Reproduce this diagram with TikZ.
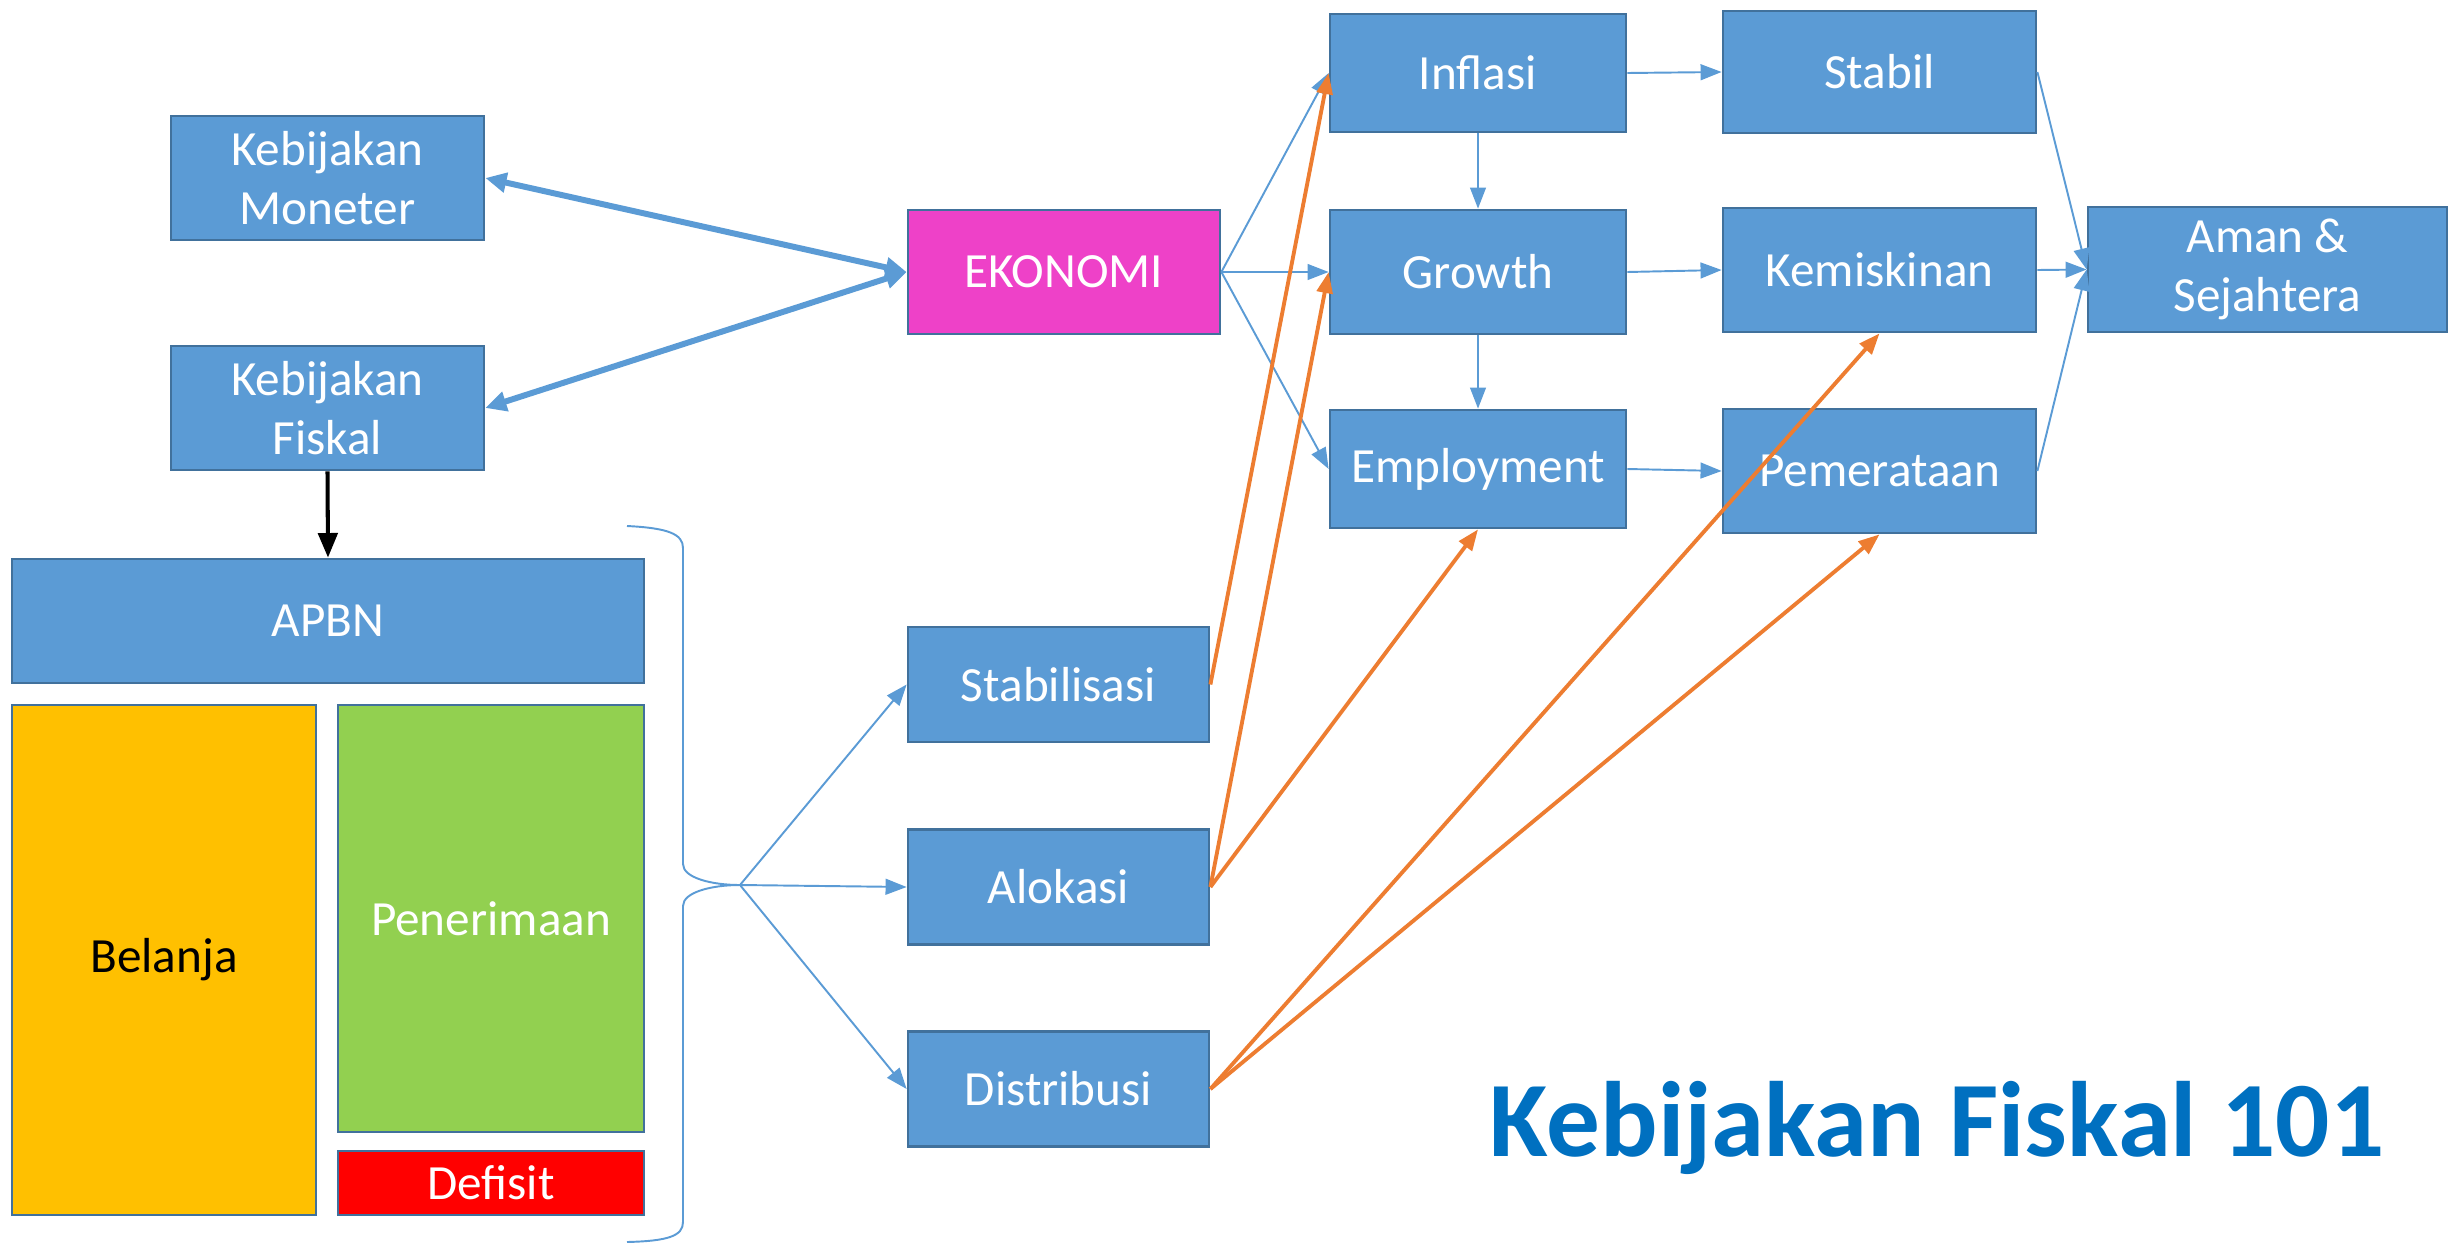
\documentclass[tikz,border=0pt]{standalone}
\usepackage{fontspec}
\setmainfont{Carlito}
\usetikzlibrary{arrows.meta}
\definecolor{boxblue}{HTML}{5B9BD5}
\definecolor{boxedge}{HTML}{41719C}
\definecolor{ekmag}{HTML}{EE41C8}
\definecolor{orng}{HTML}{ED7D31}
\definecolor{gold}{HTML}{FFC000}
\definecolor{lgreen}{HTML}{92D050}
\definecolor{titleblue}{HTML}{0070C0}
\tikzset{
  box/.style={draw=boxedge, line width=1.6pt, fill=boxblue, text=white, align=center,
    inner sep=0pt, font=\fontsize{28}{34}\selectfont},
  bl/.style={draw=boxblue, line width=1.1pt, -{Triangle[length=12pt,width=9pt]}},
  thick2/.style={draw=boxblue, line width=3.4pt, {Triangle[length=12pt,width=11pt]}-{Triangle[length=12pt,width=11pt]}},
  or/.style={draw=orng, line width=2.2pt, -{Triangle[length=12pt,width=9pt]}},
  blk/.style={draw=black, line width=2.3pt, -{Triangle[length=14pt,width=11pt]}},
}
\begin{document}
\begin{tikzpicture}[x=0.02cm, y=-0.02cm]
\useasboundingbox (0,0) rectangle (2456,1244);
% left column
\node[box, minimum width=6.26cm, minimum height=2.48cm] (mon) at (327.5,178) {Kebijakan\\Moneter};
\node[box, minimum width=6.26cm, minimum height=2.48cm] (fis) at (327.5,408) {Kebijakan\\Fiskal};
\node[box, minimum width=12.64cm, minimum height=2.48cm] (apbn) at (328,621) {APBN};
\node[box, fill=gold, text=black, minimum width=6.08cm, minimum height=10.2cm] (bel) at (164,960) {Belanja};
\node[box, fill=lgreen, minimum width=6.12cm, minimum height=8.54cm] (pen) at (491,918.5) {Penerimaan};
\node[box, fill=red, minimum width=6.12cm, minimum height=1.28cm] (def) at (491,1183) {Defisit};
% middle
\node[box, fill=ekmag, minimum width=6.24cm, minimum height=2.48cm] (eko) at (1064,272) {EKONOMI};
\node[box, minimum width=6.02cm, minimum height=2.3cm] (stb) at (1058.5,684.5) {Stabilisasi};
\node[box, minimum width=6.02cm, minimum height=2.3cm] (alo) at (1058.5,887) {Alokasi};
\node[box, minimum width=6.02cm, minimum height=2.3cm] (dis) at (1058.5,1089) {Distribusi};
% right
\node[box, minimum width=5.92cm, minimum height=2.36cm] (inf) at (1478,73) {Inflasi};
\node[box, minimum width=5.92cm, minimum height=2.48cm] (gro) at (1478,272) {Growth};
\node[box, minimum width=5.92cm, minimum height=2.36cm] (emp) at (1478,469) {Employment};
\node[box, minimum width=6.26cm, minimum height=2.44cm] (sta) at (1879.5,72) {Stabil};
\node[box, minimum width=6.26cm, minimum height=2.48cm] (kem) at (1879.5,270) {Kemiskinan};
\node[box, minimum width=6.26cm, minimum height=2.48cm] (pem) at (1879.5,471) {Pemerataan};
\node[box, minimum width=7.18cm, minimum height=2.5cm] (aman) at (2267.5,269.5) {Aman \&\\Sejahtera};
% title
\node[text=titleblue, font=\fontsize{61}{70}\selectfont\bfseries] (title) at (1937,1128) {Kebijakan Fiskal 101};
% brace
\draw[boxblue, line width=1.1pt] (627,526) .. controls (668,528) and (683,534) .. (683,548) -- (683,864)
  .. controls (683,878) and (712,885) .. (740,885)
  .. controls (712,885) and (683,892) .. (683,906) -- (683,1222)
  .. controls (683,1236) and (668,1241) .. (627,1242);
\coordinate (tip) at (740,885);
% connectors
\draw[thick2] (mon.east) -- (eko.west);
\draw[thick2] (fis.east) -- (eko.west);
\draw[blk] (fis.south) -- (apbn.north);
\draw[bl] (tip) -- (stb.west);
\draw[bl] (tip) -- (alo.west);
\draw[bl] (tip) -- (dis.west);
\draw[bl] (eko.east) -- (inf.west);
\draw[bl] (eko.east) -- (gro.west);
\draw[bl] (eko.east) -- (emp.west);
\draw[bl] (inf.south) -- (gro.north);
\draw[bl] (gro.south) -- (emp.north);
\draw[bl] (inf.east) -- (sta.west);
\draw[bl] (gro.east) -- (kem.west);
\draw[bl] (emp.east) -- (pem.west);
\draw[bl] (sta.east) -- (aman.west);
\draw[bl] (kem.east) -- (aman.west);
\draw[bl] (pem.east) -- (aman.west);
\draw[or] (stb.east) -- (inf.west);
\draw[or] (alo.east) -- (gro.west);
\draw[or] (alo.east) -- (emp.south);
\draw[or] (dis.east) -- (kem.south);
\draw[or] (dis.east) -- (pem.south);
\end{tikzpicture}
\end{document}
